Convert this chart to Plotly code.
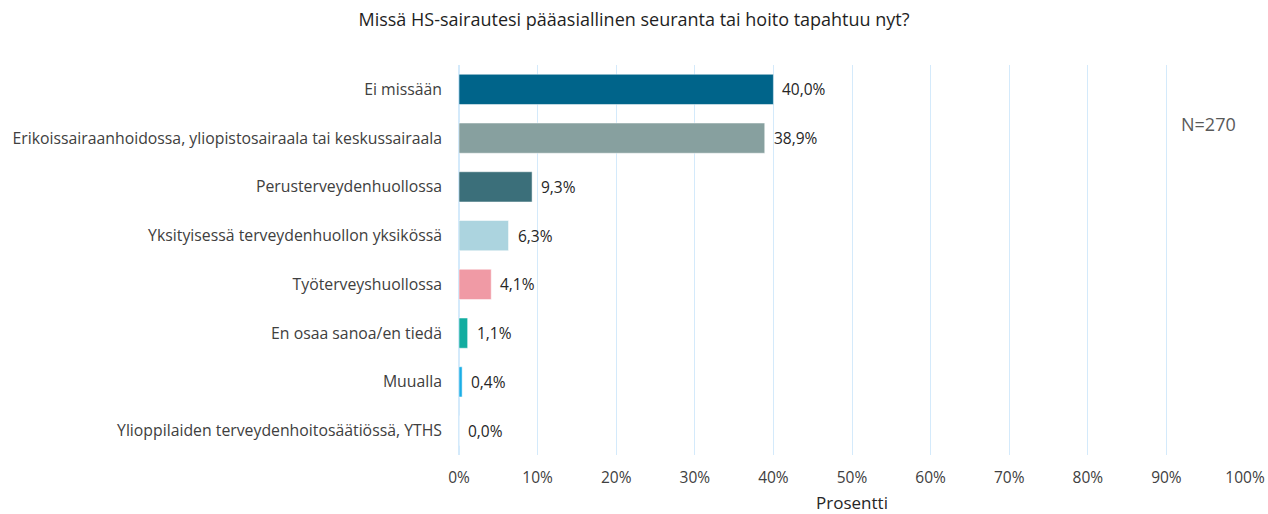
import plotly.graph_objects as go

categories = [
    "Ei missään",
    "Erikoissairaanhoidossa, yliopistosairaala tai keskussairaala",
    "Perusterveydenhuollossa",
    "Yksityisessä terveydenhuollon yksikössä",
    "Työterveyshuollossa",
    "En osaa sanoa/en tiedä",
    "Muualla",
    "Ylioppilaiden terveydenhoitosäätiössä, YTHS",
]
values = [40.0, 38.9, 9.3, 6.3, 4.1, 1.1, 0.4, 0.0]
colors = ["#00648a", "#87a09f", "#3b6f7a", "#acd4df", "#f09aa5", "#12ada0", "#1aaee6", "#ffffff"]
labels = [f"{v:.1f}%".replace(".", ",") for v in values]
tick_vals = list(range(0, 101, 10))
tick_text = [f"{t}%" for t in tick_vals]

FONT = "Open Sans"

fig = go.Figure(go.Bar(
    y=categories,
    x=values,
    orientation="h",
    marker=dict(color=colors, line=dict(color="rgba(255,255,255,0.5)", width=1)),
    width=0.62,
    hoverinfo="skip",
))

for c, v, lab in zip(categories, values, labels):
    fig.add_annotation(x=v, y=c, xref="x", yref="y", text=lab, showarrow=False,
                       xanchor="left", yanchor="middle", xshift=7,
                       font=dict(family=FONT, size=15.5, color="#262626"))

fig.update_layout(
    width=1268, height=514,
    margin=dict(l=459, r=23, t=65, b=59, autoexpand=False),
    paper_bgcolor="white", plot_bgcolor="white",
    font=dict(family=FONT, size=15.5, color="#404040"),
    title=dict(text="Missä HS-sairautesi pääasiallinen seuranta tai hoito tapahtuu nyt?",
               x=0.5, xanchor="center", y=1 - 20 / 514, yanchor="middle",
               font=dict(family=FONT, size=18, color="#1f1f1f")),
    showlegend=False,
    xaxis=dict(range=[0, 100], tickvals=tick_vals, ticktext=tick_text, automargin=False,
               showgrid=True, gridcolor="#d4eafb", gridwidth=1, zeroline=True,
               zerolinecolor="#d4eafb", showline=False, ticks="", ticklabelstandoff=11,
               tickfont=dict(family=FONT, size=15.5, color="#404040"),
               title=dict(text="Prosentti", standoff=15,
                          font=dict(family=FONT, size=17, color="#262626"))),
    yaxis=dict(autorange="reversed", showgrid=False, ticks="", ticklabelstandoff=16,
               automargin=False,
               tickfont=dict(family=FONT, size=15.8, color="#404040")),
    annotations=list(fig.layout.annotations) + [
        dict(text="N=270", x=95.4, y=(455 - 124) / 390, xref="x", yref="paper",
             xanchor="center", yanchor="middle",
             showarrow=False, font=dict(family=FONT, size=18, color="#595959"))],
)

fig.write_html("out.html", config={"displayModeBar": False},
               post_script="document.body.style.margin='0';document.body.style.padding='0';")
